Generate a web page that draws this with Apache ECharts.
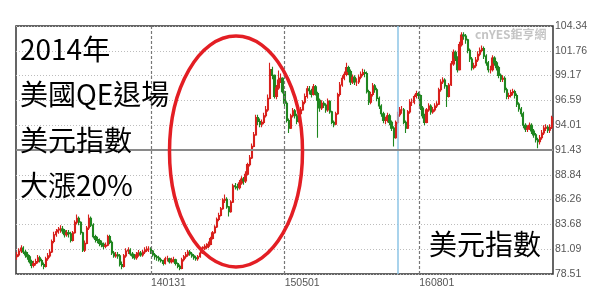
<!DOCTYPE html>
<html><head><meta charset="utf-8">
<script src="https://cdn.jsdelivr.net/npm/echarts@6/dist/echarts.min.js"></script>
<style>html,body{margin:0;padding:0;background:#fff}#c{width:600px;height:294px}</style>
</head><body><div id="c"></div>
<script>
// Weekly candles (Fridays), first week ending 2012-11-02
const firstWeek = '2012-11-02';
const axisStart = '2012-10-29';
const axisEnd = '2017-10-30';
// [open, close, low, high]
const ohlc = [
[80.3,80.5,80.0,80.8],[80.5,80.9,80.3,81.2],[80.9,81.2,80.7,81.5],[81.2,80.8,80.6,81.4],[80.8,80.5,80.2,81.0],
[80.5,80.3,80.0,80.8],[80.3,79.8,79.6,80.5],[79.8,79.4,79.1,80.0],[79.4,79.6,79.2,79.9],[79.6,79.8,79.4,80.1],
[79.8,80.2,79.6,80.5],[80.2,79.9,79.7,80.4],[79.9,79.5,79.3,80.1],[79.5,79.3,79.0,79.7],[79.3,80.1,79.2,80.3],
[80.1,80.4,79.9,80.7],[80.4,80.8,80.2,81.1],[80.8,81.9,80.7,82.1],[81.9,82.6,81.7,82.9],[82.6,82.9,82.4,83.2],
[82.9,83.1,82.7,83.4],[83.1,83.2,82.8,83.6],[83.2,83.0,82.7,83.5],[83.0,82.6,82.3,83.2],[82.6,82.8,82.4,83.1],
[82.8,82.7,82.3,83.1],[82.7,82.0,81.8,82.9],[82.0,82.8,81.9,83.0],[82.8,83.9,82.7,84.1],[83.9,84.3,83.7,84.7],
[84.3,83.9,83.6,84.5],[83.9,82.8,82.6,84.0],[82.8,81.0,80.8,82.9],[81.0,81.7,80.8,82.0],[81.7,83.3,81.6,83.5],
[83.3,84.3,83.1,84.7],[84.3,83.6,83.4,84.5],[83.6,82.4,82.2,83.8],[82.4,82.1,81.8,82.6],[82.1,82.0,81.7,82.4],
[82.0,81.7,81.4,82.2],[81.7,81.6,81.3,82.0],[81.6,81.4,81.1,81.8],[81.4,81.5,81.2,81.8],[81.5,82.4,81.4,82.6],
[82.4,81.8,81.6,82.6],[81.8,80.7,80.5,82.0],[80.7,80.4,80.2,80.9],[80.4,80.5,80.2,80.8],[80.5,80.4,80.1,80.8],
[80.4,79.5,79.3,80.6],[79.5,79.3,79.0,79.8],[79.3,80.4,79.2,80.6],[80.4,80.9,80.2,81.2],[80.9,81.0,80.6,81.3],
[81.0,80.6,80.4,81.2],[80.6,80.4,80.1,80.8],[80.4,80.2,80.0,80.6],[80.2,80.5,80.0,80.8],[80.5,80.7,80.3,81.0],
[80.7,80.5,80.3,80.9],[80.5,80.8,80.3,81.0],[80.8,81.0,80.6,81.3],[81.0,81.1,80.8,81.4],[81.1,81.1,80.8,81.4],
[81.1,80.9,80.6,81.3],[80.9,80.5,80.3,81.0],[80.5,80.3,80.0,80.7],[80.3,80.2,79.9,80.5],[80.2,80.0,79.8,80.4],
[80.0,79.9,79.7,80.2],[79.9,79.6,79.4,80.0],[79.6,80.1,79.5,80.3],[80.1,80.1,79.8,80.4],[80.1,79.8,79.6,80.2],
[79.8,79.9,79.6,80.2],[79.9,80.0,79.7,80.3],[80.0,79.6,79.4,80.1],[79.6,79.3,79.1,79.7],[79.3,79.1,78.9,79.5],
[79.1,80.0,79.0,80.2],[80.0,80.3,79.8,80.5],[80.3,80.5,80.1,80.8],[80.5,80.8,80.3,81.0],[80.8,80.6,80.4,81.0],
[80.6,80.4,80.2,80.8],[80.4,80.2,80.0,80.6],[80.2,80.1,79.9,80.4],[80.1,80.3,79.9,80.5],[80.3,80.7,80.2,80.9],
[80.7,81.2,80.6,81.4],[81.2,81.3,81.0,81.6],[81.3,81.4,81.1,81.7],[81.4,81.6,81.2,81.9],[81.6,82.2,81.5,82.4],
[82.2,82.8,82.1,83.0],[82.8,83.4,82.7,83.6],[83.4,84.2,83.3,84.4],[84.2,84.6,84.0,84.9],[84.6,85.3,84.5,85.5],
[85.3,86.2,85.2,86.4],[86.2,86.3,85.9,86.8],[86.3,85.5,85.3,86.5],[85.5,85.0,84.5,85.6],[85.0,86.0,84.9,86.2],
[86.0,87.7,85.9,87.9],[87.7,87.6,87.3,88.0],[87.6,87.5,87.2,87.9],[87.5,88.0,87.3,88.3],[88.0,88.4,87.8,88.7],
[88.4,88.2,87.8,88.6],[88.2,88.9,88.0,89.2],[88.9,89.9,88.8,90.1],[89.9,90.6,89.7,90.9],[90.6,91.8,90.5,92.1],
[91.8,93.0,91.7,93.3],[93.0,94.8,92.9,95.1],[94.8,94.4,94.0,95.1],[94.4,94.1,93.8,94.7],[94.1,94.3,93.8,94.6],
[94.3,95.0,94.1,95.3],[95.0,95.6,94.8,96.0],[95.6,96.8,95.4,97.2],[96.8,99.8,96.7,100.5],[99.8,99.2,98.8,100.1],
[99.2,97.0,96.8,99.3],[97.0,97.9,96.7,98.2],[97.9,98.7,97.7,99.7],[98.7,98.9,98.4,99.4],[98.9,97.5,97.3,99.0],
[97.5,96.3,96.0,97.6],[96.3,94.5,94.3,96.5],[94.5,93.7,93.2,94.7],[93.7,95.0,93.6,95.2],[95.0,95.5,94.8,95.8],
[95.5,95.0,94.7,95.7],[95.0,94.4,94.1,95.2],[94.4,95.2,94.3,95.4],[95.2,95.6,95.0,95.9],[95.6,96.4,95.5,96.6],
[96.4,97.0,96.2,97.3],[97.0,97.8,96.8,98.1],[97.8,97.6,97.2,98.1],[97.6,97.2,96.9,97.8],[97.2,98.0,97.1,98.3],
[98.0,97.3,97.1,98.2],[97.3,96.6,92.7,97.5],[96.6,95.8,95.4,96.8],[95.8,96.3,95.6,96.6],[96.3,96.1,95.8,96.5],
[96.1,95.6,95.3,96.3],[95.6,96.5,95.4,96.8],[96.5,95.4,95.2,96.6],[95.4,94.3,94.1,95.5],[94.3,94.1,93.8,94.5],
[94.1,95.2,94.0,95.4],[95.2,97.2,95.1,97.4],[97.2,98.2,97.0,98.5],[98.2,98.9,98.0,99.2],[98.9,99.3,98.7,99.6],
[99.3,100.0,99.1,100.5],[100.0,99.6,99.2,100.2],[99.6,98.5,98.2,99.8],[98.5,99.0,98.3,99.3],[99.0,98.5,98.2,99.2],
[98.5,98.5,98.1,98.9],[98.5,99.0,98.3,99.3],[99.0,99.3,98.8,99.6],[99.3,99.5,99.1,99.9],[99.5,99.4,99.0,99.8],
[99.4,97.5,97.3,99.6],[97.5,96.4,96.1,97.7],[96.4,97.2,96.2,97.5],[97.2,98.1,97.0,98.4],[98.1,97.7,97.4,98.3],
[97.7,96.8,96.5,97.9],[96.8,96.0,95.7,97.0],[96.0,95.2,94.9,96.2],[95.2,94.5,94.2,95.4],[94.5,94.5,94.1,94.9],
[94.5,95.0,94.3,95.3],[95.0,94.3,94.0,95.2],[94.3,93.7,93.4,94.5],[93.7,92.7,91.8,93.9],[92.7,94.3,92.6,94.5],
[94.3,95.1,94.1,95.4],[95.1,95.6,94.9,95.9],[95.6,95.6,95.2,96.0],[95.6,94.3,94.1,95.8],[94.3,93.7,93.2,94.5],
[93.7,95.4,93.6,95.6],[95.4,96.4,95.2,96.7],[96.4,96.4,96.0,96.8],[96.4,97.0,96.2,97.2],[97.0,97.3,96.8,97.6],
[97.3,97.1,96.7,97.5],[97.1,95.8,95.6,97.2],[95.8,95.0,94.7,96.0],[95.0,94.3,94.0,95.2],[94.3,95.6,94.2,95.8],
[95.6,96.0,95.4,96.3],[96.0,95.4,95.1,96.2],[95.4,95.6,95.2,95.9],[95.6,96.0,95.4,96.3],[96.0,96.2,95.8,96.5],
[96.2,97.7,96.1,97.9],[97.7,98.5,97.5,98.8],[98.5,98.7,98.3,99.0],[98.7,98.1,97.8,98.9],[98.1,97.0,95.9,98.2],
[97.0,98.2,96.9,98.4],[98.2,100.4,98.1,100.7],[100.4,101.6,100.2,101.9],[101.6,101.0,100.7,101.8],[101.0,99.8,99.5,101.2],
[99.8,102.4,99.7,102.7],[102.4,103.4,102.2,103.7],[103.4,103.3,102.9,103.7],[103.3,102.9,102.5,103.5],[102.9,101.8,101.5,103.0],
[101.8,100.9,100.6,102.0],[100.9,100.0,99.7,101.1],[100.0,100.2,99.8,100.5],[100.2,100.8,100.0,101.1],[100.8,101.4,100.6,101.7],
[101.4,101.8,101.2,102.1],[101.8,102.0,101.6,102.3],[102.0,101.2,100.9,102.2],[101.2,100.5,100.2,101.4],[100.5,99.8,99.5,100.7],
[99.8,99.8,99.4,100.2],[99.8,101.0,99.6,101.3],[101.0,100.5,100.2,101.2],[100.5,100.0,99.7,100.7],[100.0,99.2,98.9,100.2],
[99.2,98.8,98.5,99.4],[98.8,98.9,98.5,99.2],[98.9,97.7,97.4,99.1],[97.7,97.0,96.7,97.9],[97.0,97.1,96.7,97.4],
[97.1,97.4,96.9,97.7],[97.4,97.5,97.1,97.8],[97.5,97.1,96.8,97.7],[97.1,96.2,95.9,97.3],[96.2,95.7,95.4,96.4],
[95.7,95.2,94.9,95.9],[95.2,94.0,93.7,95.4],[94.0,93.6,93.3,94.2],[93.6,93.7,93.3,94.0],[93.7,94.0,93.5,94.3],
[94.0,93.4,93.1,94.2],[93.4,93.0,92.7,93.6],[93.0,92.5,92.2,93.2],[92.5,92.3,91.6,92.7],[92.3,92.7,92.0,93.0],
[92.7,93.2,92.5,93.5],[93.2,93.7,93.0,94.0],[93.7,93.8,93.4,94.1],[93.8,93.5,93.2,94.0],[93.5,93.8,93.2,94.1],
[93.8,94.8,93.6,95.0]
];
const yTicks = ['78.51','81.09','83.68','86.26','88.84','91.43','94.01','96.59','99.17','101.76','104.34'];
const yMin = 78.51, yMax = 104.34;
const midLineValue = 91.43;
const xTickDates = ['2014-01-31','2015-05-01','2016-08-01'];
const xTickLabels = ['140131','150501','160801'];
const cursorDate = '2016-05-20';
const noteLines = ['2014年','美國QE退場','美元指數','大漲20%'];
const cornerTitle = '美元指數';
const watermark = 'cnYES鉅亨網';

function utc(s){const p=s.split('-').map(Number);return Date.UTC(p[0],p[1]-1,p[2]);}
const DAY = 86400000;
const t0 = utc(firstWeek);
const seriesData = ohlc.map((r,i)=>[t0 + i*7*DAY, r[0], r[1], r[2], r[3]]);
const yInterval = (yMax - yMin) / (yTicks.length - 1);

const chart = echarts.init(document.getElementById('c'), null, {renderer:'canvas'});
chart.setOption({
  animation:false,
  backgroundColor:'#fff',
  grid:{left:16,right:47,top:26,bottom:20,show:true,borderColor:'#333',borderWidth:1.5,backgroundColor:'transparent'},
  xAxis:{type:'time',min:utc(axisStart),max:utc(axisEnd),
    axisLine:{show:false},axisTick:{show:false},axisLabel:{show:false},splitLine:{show:false}},
  yAxis:{type:'value',position:'right',min:yMin,max:yMax,interval:yInterval,scale:true,
    axisLine:{show:false},axisTick:{show:false},
    axisLabel:{margin:2,color:'#555',fontSize:10.5,fontFamily:'"Liberation Sans", Arial, sans-serif',padding:[0,0,8,0],
      formatter:function(v){const k=Math.round((v-yMin)/yInterval);return yTicks[k]||'';}},
    splitLine:{show:true,lineStyle:{color:'#bdbdbd',width:1,type:[1,2]}}},
  series:[{
    type:'candlestick',
    data:seriesData,
    barWidth:1.8,
    itemStyle:{color:'#d8201c',color0:'#1f861f',borderColor:'#d8201c',borderColor0:'#1f861f',borderWidth:1.1},
    markLine:{silent:true,symbol:'none',label:{show:false},animation:false,
      data:[
        ...xTickDates.map(d=>({xAxis:utc(d),lineStyle:{color:'#777',width:1.2,type:[3,2]}})),
        {xAxis:utc(cursorDate),lineStyle:{color:'#8cc4e6',width:1.5,type:'solid'}},
        {yAxis:midLineValue,lineStyle:{color:'#8a8a8a',width:2,type:'solid'}}
      ]}
  }]
});

const gfx = [];
const cjk = '"Noto Sans CJK TC","Noto Sans CJK SC",sans-serif';
const noteY = [54,99.5,145,190.5];
noteLines.forEach((t,i)=>gfx.push({type:'text',z:100,left:20,top:noteY[i]-19,
  style:{text:t,font:'28px '+cjk,fill:'#000'}}));
gfx.push({type:'text',z:100,left:429,top:249-19,style:{text:cornerTitle,font:'28px '+cjk,fill:'#000'}});
gfx.push({type:'text',z:100,left:475,top:28,style:{text:watermark,font:'bold 12px '+cjk,fill:'#c4c4c4'}});
xTickDates.forEach((d,i)=>{
  const px = chart.convertToPixel({xAxisIndex:0}, utc(d));
  gfx.push({type:'text',z:100,x:px,y:278,style:{text:xTickLabels[i],font:'10.5px "Liberation Sans", Arial, sans-serif',fill:'#555'}});
});
gfx.push({type:'ellipse',z:100,shape:{cx:236,cy:151.5,rx:66.5,ry:115.5},
  style:{fill:'none',stroke:'#e31e24',lineWidth:3.5}});
chart.setOption({graphic:gfx});
</script></body></html>
